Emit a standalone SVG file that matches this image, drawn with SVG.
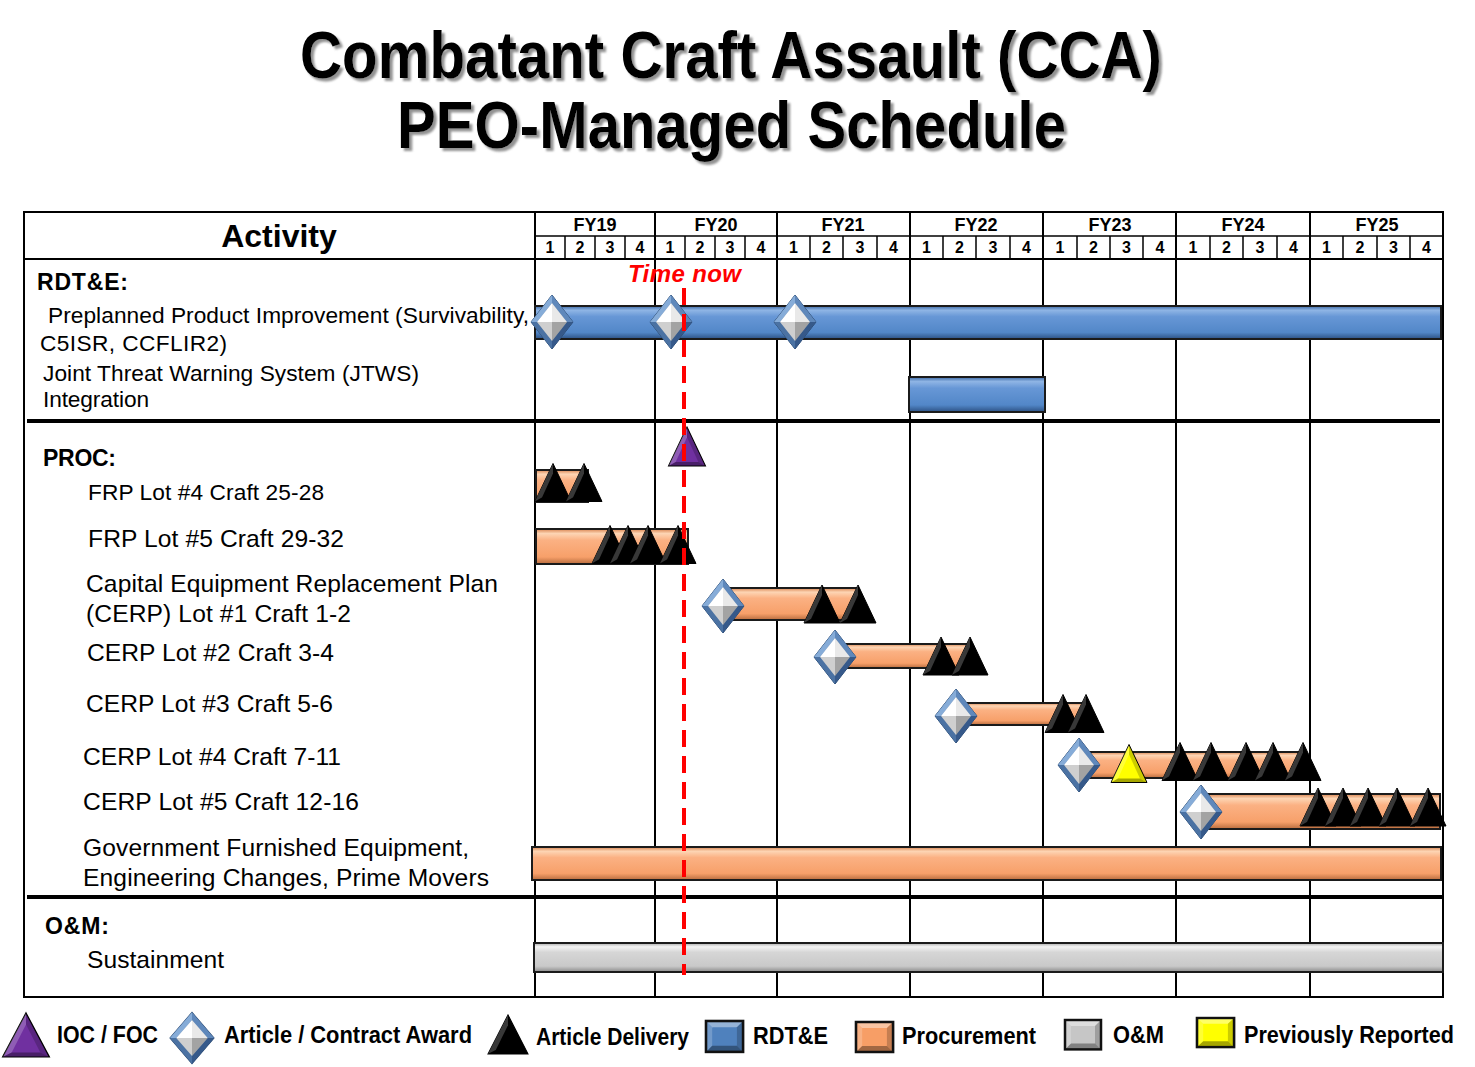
<svg xmlns="http://www.w3.org/2000/svg" width="1475" height="1067" viewBox="0 0 1475 1067">
<defs>
<style>
text{font-family:"Liberation Sans",Arial,sans-serif;fill:#000}
.title{font-size:66px;font-weight:bold;filter:url(#sh)}
.fy{font-size:18px;font-weight:bold;text-anchor:middle}
.q{font-size:16px;font-weight:bold;text-anchor:middle}
.hd{font-size:32px;font-weight:bold;text-anchor:middle}
.sec{font-size:23px;font-weight:bold}
.lbl{font-size:24.6px}
.lbs{font-size:22.7px}
.leg{font-size:23px;font-weight:bold}
.now{font-size:24px;font-weight:bold;font-style:italic;fill:#ff0000}
.g{stroke:#000;fill:none}
.bar{stroke:#1b1b1b;stroke-width:2}
.blue{fill:url(#gBlue)}
.orange{fill:url(#gOrange)}
.grey{fill:url(#gGrey)}
</style>
<filter id="sh" x="-5%" y="-20%" width="110%" height="150%">
<feDropShadow dx="3" dy="3" stdDeviation="0.8" flood-color="#7f7f7f" flood-opacity="0.85"/>
</filter>
<linearGradient id="gBlue" x1="0" y1="0" x2="0" y2="1">
<stop offset="0" stop-color="#3d6aa5"/><stop offset="0.13" stop-color="#8fb5e5"/><stop offset="0.32" stop-color="#6797d6"/><stop offset="0.8" stop-color="#5287c8"/><stop offset="1" stop-color="#2c5183"/>
</linearGradient>
<linearGradient id="gOrange" x1="0" y1="0" x2="0" y2="1">
<stop offset="0" stop-color="#d98450"/><stop offset="0.13" stop-color="#fdd5b4"/><stop offset="0.32" stop-color="#fbb183"/><stop offset="0.8" stop-color="#f7a06a"/><stop offset="1" stop-color="#b86c3e"/>
</linearGradient>
<linearGradient id="gGrey" x1="0" y1="0" x2="0" y2="1">
<stop offset="0" stop-color="#a8a8a8"/><stop offset="0.13" stop-color="#f4f4f4"/><stop offset="0.32" stop-color="#d6d6d6"/><stop offset="0.8" stop-color="#c9c9c9"/><stop offset="1" stop-color="#8a8a8a"/>
</linearGradient>
<g id="dia">
<polygon points="0,-27 21,0 0,27 -21,0" fill="#4a6f9e" stroke="#2b4a72" stroke-width="1"/>
<polygon points="0,-27 -21,0 -15,0 0,-19" fill="#86acd8"/>
<polygon points="0,-27 21,0 15,0 0,-19" fill="#5f88bb"/>
<polygon points="-21,0 0,27 0,19 -15,0" fill="#4b72a3"/>
<polygon points="21,0 0,27 0,19 15,0" fill="#36598a"/>
<polygon points="0,-19 -15,0 0,0" fill="#ffffff"/>
<polygon points="0,-19 15,0 0,0" fill="#e9e9e9"/>
<polygon points="-15,0 0,19 0,0" fill="#cfcfcf"/>
<polygon points="15,0 0,19 0,0" fill="#a3a3a3"/>
</g>
<g id="tri">
<polygon points="0,-19 18,19 -18,19" stroke="#000" stroke-width="1"/>
<polygon points="0,-19 -18,19 -11,15 0,-9" fill="#fff" fill-opacity="0.22"/>
<polygon points="0,-19 18,19 11,15 0,-9" fill="#000" fill-opacity="0.2"/>
<polygon points="-18,19 18,19 11,15 -11,15" fill="#000" fill-opacity="0.35"/>
</g>
<g id="sq">
<rect x="0" y="0" width="36" height="30"/>
<polygon points="0,0 36,0 30,6 6,6" fill="#fff" fill-opacity="0.4"/>
<polygon points="0,0 6,6 6,24 0,30" fill="#fff" fill-opacity="0.2"/>
<polygon points="36,0 36,30 30,24 30,6" fill="#000" fill-opacity="0.2"/>
<polygon points="0,30 36,30 30,24 6,24" fill="#000" fill-opacity="0.35"/>
<rect x="0" y="0" width="36" height="30" fill="none" stroke="#111" stroke-width="2.5"/>
</g>
</defs>
<rect x="0" y="0" width="1475" height="1067" fill="#fff"/>

<g id="title">
<text class="title" x="300" y="78" textLength="862" lengthAdjust="spacingAndGlyphs">Combatant Craft Assault (CCA)</text>
<text class="title" x="397" y="148" textLength="669" lengthAdjust="spacingAndGlyphs">PEO-Managed Schedule</text>
</g>

<g id="grid" class="g">
<rect x="24" y="212" width="1419" height="785" stroke-width="2"/>
<line x1="535" y1="212" x2="535" y2="997" stroke-width="2"/>
<line x1="535" y1="236" x2="1443" y2="236" stroke-width="1.5"/>
<line x1="24" y1="259" x2="1443" y2="259" stroke-width="2"/>
<path d="M655 212V997M777 212V997M910 212V997M1043 212V997M1176 212V997M1310 212V997" stroke-width="2"/>
<path d="M565 236V259M595 236V259M625 236V259M685 236V259M715 236V259M745 236V259M810 236V259M843 236V259M877 236V259M943 236V259M976 236V259M1010 236V259M1077 236V259M1110 236V259M1143 236V259M1210 236V259M1243 236V259M1277 236V259M1343 236V259M1377 236V259M1410 236V259" stroke-width="1.5"/>
<line x1="27" y1="421" x2="1440" y2="421" stroke-width="4"/>
<line x1="27" y1="897" x2="1443" y2="897" stroke-width="4"/>
</g>

<g id="header">
<text class="hd" x="279" y="247">Activity</text>
<text class="fy" x="595" y="231">FY19</text>
<text class="fy" x="716" y="231">FY20</text>
<text class="fy" x="843" y="231">FY21</text>
<text class="fy" x="976" y="231">FY22</text>
<text class="fy" x="1110" y="231">FY23</text>
<text class="fy" x="1243" y="231">FY24</text>
<text class="fy" x="1377" y="231">FY25</text>
<text class="q" x="550" y="253">1</text><text class="q" x="580" y="253">2</text><text class="q" x="610" y="253">3</text><text class="q" x="640" y="253">4</text>
<text class="q" x="670" y="253">1</text><text class="q" x="700" y="253">2</text><text class="q" x="730" y="253">3</text><text class="q" x="761" y="253">4</text>
<text class="q" x="793.5" y="253">1</text><text class="q" x="826.5" y="253">2</text><text class="q" x="860" y="253">3</text><text class="q" x="893.5" y="253">4</text>
<text class="q" x="926.5" y="253">1</text><text class="q" x="959.5" y="253">2</text><text class="q" x="993" y="253">3</text><text class="q" x="1026.5" y="253">4</text>
<text class="q" x="1060" y="253">1</text><text class="q" x="1093.5" y="253">2</text><text class="q" x="1126.5" y="253">3</text><text class="q" x="1160" y="253">4</text>
<text class="q" x="1193" y="253">1</text><text class="q" x="1226.5" y="253">2</text><text class="q" x="1260" y="253">3</text><text class="q" x="1293.5" y="253">4</text>
<text class="q" x="1326.5" y="253">1</text><text class="q" x="1360" y="253">2</text><text class="q" x="1393.5" y="253">3</text><text class="q" x="1426.5" y="253">4</text>
</g>

<g id="sections">
<text class="sec" x="37" y="290" textLength="91">RDT&amp;E:</text>
<text class="sec" x="43" y="466" textLength="73">PROC:</text>
<text class="sec" x="45" y="934" textLength="64">O&amp;M:</text>
</g>

<g id="row-p3i">
<text class="lbs" x="48" y="323" textLength="481">Preplanned Product Improvement (Survivability,</text>
<text class="lbs" x="40" y="351" textLength="187">C5ISR, CCFLIR2)</text>
<rect class="bar blue" x="535" y="306" width="906" height="33"/>
<use href="#dia" x="552" y="322"/>
<use href="#dia" x="671" y="322"/>
<use href="#dia" x="795" y="322"/>
</g>

<g id="row-jtws">
<text class="lbs" x="43" y="381" textLength="376">Joint Threat Warning System (JTWS)</text>
<text class="lbs" x="43" y="407" textLength="106">Integration</text>
<rect class="bar blue" x="909" y="377" width="136" height="35"/>
</g>

<g id="ioc">
<use href="#tri" transform="translate(687,446.5) scale(1.03,1.03)" fill="#7030a0"/>
</g>

<g id="row-frp4">
<text class="lbs" x="88" y="500" textLength="236">FRP Lot #4 Craft 25-28</text>
<rect class="bar orange" x="536" y="470" width="52" height="32"/>
<use href="#tri" x="553" y="482.5" fill="#000"/>
<use href="#tri" x="584" y="482.5" fill="#000"/>
</g>

<g id="row-frp5">
<text class="lbl" x="88" y="547" textLength="256">FRP Lot #5 Craft 29-32</text>
<rect class="bar orange" x="536" y="529" width="152" height="35"/>
<use href="#tri" x="610" y="544.5" fill="#000"/>
<use href="#tri" x="628" y="544.5" fill="#000"/>
<use href="#tri" x="648" y="544.5" fill="#000"/>
<use href="#tri" x="678" y="544.5" fill="#000"/>
</g>

<g id="row-cerp1">
<text class="lbl" x="86" y="592" textLength="412">Capital Equipment Replacement Plan</text>
<text class="lbl" x="86" y="622" textLength="265">(CERP) Lot #1 Craft 1-2</text>
<rect class="bar orange" x="723" y="588" width="135" height="32"/>
<use href="#tri" x="822" y="604" fill="#000"/>
<use href="#tri" x="858" y="604" fill="#000"/>
<use href="#dia" x="723" y="606"/>
</g>

<g id="row-cerp2">
<text class="lbl" x="87" y="661" textLength="247">CERP Lot #2 Craft 3-4</text>
<rect class="bar orange" x="835" y="644" width="132" height="24"/>
<use href="#tri" x="941" y="656" fill="#000"/>
<use href="#tri" x="970" y="656" fill="#000"/>
<use href="#dia" x="835" y="657"/>
</g>

<g id="row-cerp3">
<text class="lbl" x="86" y="712" textLength="247">CERP Lot #3 Craft 5-6</text>
<rect class="bar orange" x="956" y="703" width="129" height="22"/>
<use href="#tri" x="1063" y="713.5" fill="#000"/>
<use href="#tri" x="1086" y="713.5" fill="#000"/>
<use href="#dia" x="956" y="716"/>
</g>

<g id="row-cerp4">
<text class="lbl" x="83" y="765" textLength="258">CERP Lot #4 Craft 7-11</text>
<rect class="bar orange" x="1079" y="752" width="221" height="26"/>
<use href="#tri" x="1129" y="763.5" fill="#ffff00"/>
<use href="#tri" x="1180" y="761.5" fill="#000"/>
<use href="#tri" x="1211" y="761.5" fill="#000"/>
<use href="#tri" x="1246" y="761.5" fill="#000"/>
<use href="#tri" x="1273" y="761.5" fill="#000"/>
<use href="#tri" x="1303" y="761.5" fill="#000"/>
<use href="#dia" x="1079" y="765"/>
</g>

<g id="row-cerp5">
<text class="lbl" x="83" y="810" textLength="276">CERP Lot #5 Craft 12-16</text>
<rect class="bar orange" x="1201" y="794" width="239" height="35"/>
<use href="#tri" x="1318" y="807" fill="#000"/>
<use href="#tri" x="1343" y="807" fill="#000"/>
<use href="#tri" x="1368" y="807" fill="#000"/>
<use href="#tri" x="1397" y="807" fill="#000"/>
<use href="#tri" x="1428" y="807" fill="#000"/>
<use href="#dia" x="1201" y="812"/>
</g>

<g id="row-gfe">
<text class="lbl" x="83" y="856" textLength="386">Government Furnished Equipment,</text>
<text class="lbl" x="83" y="886" textLength="406">Engineering Changes, Prime Movers</text>
<rect class="bar orange" x="532" y="847" width="909" height="33"/>
</g>

<g id="row-om">
<text class="lbl" x="87" y="968" textLength="137">Sustainment</text>
<rect class="bar grey" x="534" y="943" width="909" height="29"/>
</g>

<g id="connectors">
<line x1="684" y1="288" x2="684" y2="975" stroke="#ff0000" stroke-width="4" stroke-dasharray="17 9"/>
<text class="now" x="628" y="282" textLength="113">Time now</text>
</g>

<g id="legend">
<use href="#tri" transform="translate(26,1035) scale(1.3,1.16)" fill="#7030a0"/>
<text class="leg" x="57" y="1043" textLength="101" lengthAdjust="spacingAndGlyphs">IOC / FOC</text>
<use href="#dia" transform="translate(192,1038) scale(1.05,0.95)"/>
<text class="leg" x="224" y="1043" textLength="248" lengthAdjust="spacingAndGlyphs">Article / Contract Award</text>
<use href="#tri" transform="translate(508,1034.5) scale(1.11,1.03)" fill="#000"/>
<text class="leg" x="536" y="1045" textLength="153" lengthAdjust="spacingAndGlyphs">Article Delivery</text>
<use href="#sq" transform="translate(706,1021) scale(1.03,1.03)" fill="#4f81bd"/>
<text class="leg" x="753" y="1044" textLength="75" lengthAdjust="spacingAndGlyphs">RDT&amp;E</text>
<use href="#sq" transform="translate(856,1022) scale(1.03,1)" fill="#f79e66"/>
<text class="leg" x="902" y="1044" textLength="134" lengthAdjust="spacingAndGlyphs">Procurement</text>
<use href="#sq" transform="translate(1065,1020) scale(1,0.98)" fill="#c6c6c6"/>
<text class="leg" x="1113" y="1043" textLength="51" lengthAdjust="spacingAndGlyphs">O&amp;M</text>
<use href="#sq" transform="translate(1197,1018) scale(1.03,0.97)" fill="#ffff00"/>
<text class="leg" x="1244" y="1043" textLength="210" lengthAdjust="spacingAndGlyphs">Previously Reported</text>
</g>
</svg>
